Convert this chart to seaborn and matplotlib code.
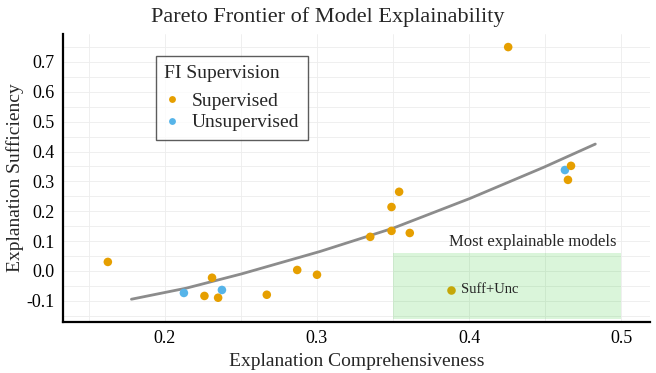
import numpy as np
import pandas as pd
import matplotlib.pyplot as plt
import seaborn as sns
from matplotlib.patches import Rectangle
from matplotlib.ticker import MultipleLocator

# model scores
comprehensiveness = [0.1625, 0.2125, 0.226, 0.231, 0.235, 0.2375, 0.267, 0.287, 0.300,
                     0.335, 0.349, 0.349, 0.354, 0.361, 0.4257, 0.463, 0.467, 0.465]
sufficiency = [0.030, -0.074, -0.084, -0.023, -0.090, -0.064, -0.080, 0.003, -0.013,
               0.114, 0.214, 0.134, 0.265, 0.127, 0.750, 0.338, 0.352, 0.305]
supervision = ['Supervised', 'Unsupervised', 'Supervised', 'Supervised', 'Supervised',
               'Unsupervised', 'Supervised', 'Supervised', 'Supervised', 'Supervised',
               'Supervised', 'Supervised', 'Supervised', 'Supervised', 'Supervised',
               'Unsupervised', 'Supervised', 'Supervised']

# highlighted model
best_name = 'Suff+Unc'
best_x = [0.388]
best_y = [-0.064]

# frontier curve
frontier_x = [0.178, 0.214, 0.2505, 0.302, 0.350, 0.4007, 0.449, 0.483]
frontier_y = [-0.095, -0.058, -0.010, 0.065, 0.143, 0.243, 0.347, 0.425]

# "most explainable" region
region_x = (0.35, 0.50)
region_y = (-0.16, 0.06)

palette = {'Supervised': '#E69F00', 'Unsupervised': '#56B4E9'}

df = pd.DataFrame({'comprehensiveness': comprehensiveness,
                   'sufficiency': sufficiency,
                   'FI Supervision': supervision})

sns.set_style('white')
plt.rcParams['font.family'] = ['Liberation Serif', 'DejaVu Serif']

fig = plt.figure(figsize=(6.56, 3.73), dpi=100)
ax = fig.add_axes([0.096, 0.137, 0.895, 0.772])

sns.lineplot(x=frontier_x, y=frontier_y, sort=False, color='#8c8c8c', linewidth=2.0, ax=ax, zorder=2)
sns.scatterplot(data=df, x='comprehensiveness', y='sufficiency', hue='FI Supervision',
                palette=palette, s=38, linewidth=0, ax=ax, zorder=3)
sns.scatterplot(x=best_x, y=best_y, color='#E69F00', s=38, linewidth=0, ax=ax, zorder=3, legend=False)

ax.add_patch(Rectangle((region_x[0], region_y[0]), region_x[1] - region_x[0], region_y[1] - region_y[0],
                       facecolor='#32CD32', alpha=0.18, edgecolor='none', zorder=4))
ax.text(region_x[1] - 0.003, region_y[1] + 0.01, 'Most explainable models', ha='right', va='bottom',
        fontsize=12, zorder=5)
ax.text(best_x[0] + 0.007, best_y[0] + 0.003, best_name, ha='left', va='center', fontsize=10.5, zorder=5)

ax.set_xlim(0.133, 0.519)
ax.set_ylim(-0.171, 0.794)
ax.set_xticks([0.2, 0.3, 0.4, 0.5])
ax.set_xticklabels(['0.2', '0.3', '0.4', '0.5'])
ax.set_yticks([-0.1, 0.0, 0.1, 0.2, 0.3, 0.4, 0.5, 0.6, 0.7])
ax.set_yticklabels(['-0.1', '0.0', '0.1', '0.2', '0.3', '0.4', '0.5', '0.6', '0.7'])
ax.xaxis.set_minor_locator(MultipleLocator(0.05))
ax.yaxis.set_minor_locator(MultipleLocator(0.05))
ax.grid(True, which='both', color='#ededed', linewidth=0.6, zorder=0)
ax.set_axisbelow(True)
ax.tick_params(axis='both', which='both', length=0, labelsize=13, pad=6, colors='black')

for side in ['top', 'right']:
    ax.spines[side].set_visible(False)
for side in ['left', 'bottom']:
    ax.spines[side].set_color('black')
    ax.spines[side].set_linewidth(1.6)

ax.set_xlabel('Explanation Comprehensiveness', fontsize=14, labelpad=4)
ax.set_ylabel('Explanation Sufficiency', fontsize=14, labelpad=2)
fig.suptitle('Pareto Frontier of Model Explainability', fontsize=16, x=0.5, y=0.982, va='top')

leg = ax.legend(title='FI Supervision', loc='upper left', bbox_to_anchor=(0.158, 0.924),
                borderaxespad=0, fontsize=14, title_fontsize=14, frameon=True, fancybox=False,
                markerscale=0.8, handlelength=0.8, handletextpad=0.6, labelspacing=0.18,
                borderpad=0.45)
leg.get_frame().set_edgecolor('#333333')
leg.get_frame().set_linewidth(1.0)
leg._legend_box.align = 'left'
leg._legend_box.sep = 8

fig.savefig('out.png', dpi=100)
